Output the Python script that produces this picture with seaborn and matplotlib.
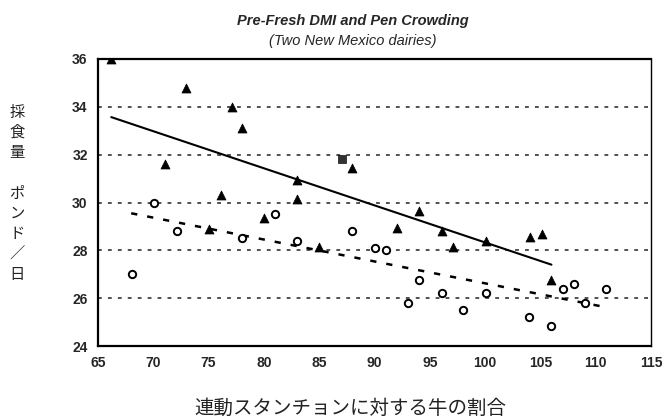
import matplotlib
matplotlib.use("Agg")
import matplotlib.pyplot as plt
import seaborn as sns
import pandas as pd

# triangles (dairy A)
tri_x = [66.2, 71.1, 73.0, 75.0, 76.1, 77.1, 78.0, 80.0, 83.0, 83.0,
         85.0, 88.0, 92.0, 94.0, 96.1, 97.1, 100.1, 104.1, 105.1, 106.0]
tri_y = [36.0, 31.6, 34.8, 28.9, 30.3, 34.0, 33.1, 29.35, 30.95, 30.15,
         28.15, 31.45, 28.95, 29.65, 28.8, 28.15, 28.4, 28.55, 28.7, 26.75]

# odd square marker
sq_x = [87.1]
sq_y = [31.8]

# open circles (dairy B)
circ_x = [68.1, 70.1, 72.1, 78.0, 81.0, 83.0, 88.0, 90.0, 91.0, 93.0,
          94.0, 96.1, 98.0, 100.1, 104.0, 106.0, 107.0, 108.0, 109.0, 110.9]
circ_y = [27.0, 30.0, 28.8, 28.5, 29.5, 28.4, 28.8, 28.1, 28.0, 25.8,
          26.75, 26.2, 25.5, 26.2, 25.2, 24.85, 26.4, 26.6, 25.8, 26.4]

# trend line end points
solid_x = [66.2, 106.0]
solid_y = [33.57, 27.4]
dot_x = [68.0, 110.6]
dot_y = [29.55, 25.65]

x_ticks = list(range(65, 116, 5))
y_ticks = list(range(24, 37, 2))

sns.set_style("white")
plt.rcParams['font.family'] = ['Liberation Sans', 'DejaVu Sans']

fig = plt.figure(figsize=(6.64, 4.19), dpi=100)
ax = fig.add_axes([98 / 664, 1 - 346 / 419, (651 - 98) / 664, (346 - 59) / 419])

df_tri = pd.DataFrame({'x': tri_x, 'y': tri_y})
df_circ = pd.DataFrame({'x': circ_x, 'y': circ_y})
df_sq = pd.DataFrame({'x': sq_x, 'y': sq_y})

# grid lines
for yv in y_ticks[1:-1]:
    ax.axhline(yv, color='#222222', lw=1.1, ls=(0, (2.5, 4)), zorder=1)

sns.lineplot(x=solid_x, y=solid_y, ax=ax, color='black', lw=1.5, zorder=2)
sns.lineplot(x=dot_x, y=dot_y, ax=ax, color='black', lw=1.8,
             linestyle=(0, (2.5, 4)), zorder=2)

sns.scatterplot(data=df_tri, x='x', y='y', ax=ax, marker='^', s=42,
                color='black', edgecolor='black', zorder=3)
sns.scatterplot(data=df_sq, x='x', y='y', ax=ax, marker='s', s=30,
                color='#333333', edgecolor='black', zorder=3)
sns.scatterplot(data=df_circ, x='x', y='y', ax=ax, marker='o', s=28,
                facecolor='white', edgecolor='black', linewidth=1.4, zorder=3)

ax.set_xlim(65, 115)
ax.set_ylim(24, 36)
ax.set_xticks(x_ticks)
ax.set_yticks(y_ticks)
ax.tick_params(direction='inout', length=7, width=1.2, color='black',
               labelsize=10, pad=4)
for lab in ax.get_xticklabels() + ax.get_yticklabels():
    lab.set_fontweight('bold')

for side in ['left', 'bottom', 'top']:
    ax.spines[side].set_linewidth(1.6)
    ax.spines[side].set_color('black')
ax.spines['right'].set_linewidth(1.0)
ax.spines['right'].set_color('black')
ax.set_xlabel('')
ax.set_ylabel('')

fig.text(353 / 664, 1 - 21 / 419, 'Pre-Fresh DMI and Pen Crowding',
         ha='center', va='center', fontsize=10.5, fontweight='bold',
         fontstyle='italic')
fig.text(353 / 664, 1 - 41 / 419, '(Two New Mexico dairies)',
         ha='center', va='center', fontsize=10.5, fontstyle='italic')

fig.text(350 / 664, 1 - 408 / 419, '連動スタンチョンに対する牛の割合',
         ha='center', va='center', fontsize=14,
         family=['Noto Sans CJK JP', 'DejaVu Sans'], color='#222222')
fig.text(17 / 664, 1 - 193 / 419, '採\n食\n量\n\nポ\nン\nド\n／\n日',
         ha='center', va='center', fontsize=11, linespacing=1.25,
         family=['Noto Sans CJK JP', 'DejaVu Sans'], color='#222222')

fig.savefig('out.png', dpi=100)
